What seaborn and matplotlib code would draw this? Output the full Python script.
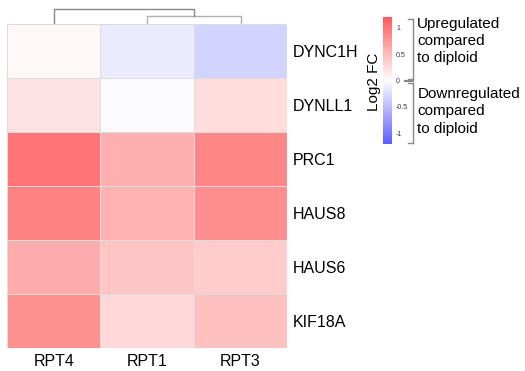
import numpy as np
import pandas as pd
import matplotlib
matplotlib.use("Agg")
import matplotlib.pyplot as plt
from matplotlib.colors import LinearSegmentedColormap
import seaborn as sns

genes = ["DYNC1H", "DYNLL1", "PRC1", "HAUS8", "HAUS6", "KIF18A"]
samples = ["RPT4", "RPT1", "RPT3"]
rpt4 = [0.05, 0.2, 1.0, 0.9, 0.6, 0.8]
rpt1 = [-0.15, -0.02, 0.58, 0.56, 0.43, 0.28]
rpt3 = [-0.32, 0.25, 0.88, 0.82, 0.38, 0.45]
# dendrogram merges: (left leaf pos, right leaf pos, height)
merge_inner = (1, 2, 0.55)
merge_outer_height = 1.0

df = pd.DataFrame({"RPT4": rpt4, "RPT1": rpt1, "RPT3": rpt3}, index=genes)

plt.rcParams["font.family"] = ["Liberation Sans", "DejaVu Sans"]
cmap = LinearSegmentedColormap.from_list("fc", ["#5c5cff", "#ffffff", "#ff5a5a"])

fig = plt.figure(figsize=(5.25, 3.71), dpi=100)
ax = fig.add_axes([0.0133, 0.062, 0.534, 0.873])
cax = fig.add_axes([0.7295, 0.612, 0.017, 0.342])

sns.heatmap(df, ax=ax, cbar_ax=cax, cmap=cmap, vmin=-1.2, vmax=1.2,
            linewidths=0.6, linecolor="#dcdcdc")
ax.yaxis.tick_right()
ax.set_yticklabels(genes, rotation=0, fontsize=11.5)
ax.set_xticklabels(samples, rotation=0, fontsize=11.5)
ax.tick_params(length=0, pad=4)

cax.set_yticks([-1, -0.5, 0, 0.5, 1])
cax.set_yticklabels(["-1", "-0.5", "0", "0.5", "1"], fontsize=5, color="#333355")
cax.tick_params(length=0, pad=3)
for s in cax.spines.values():
    s.set_visible(False)
fig.text(0.712, 0.78, "Log2 FC", rotation=90, ha="center", va="center", fontsize=11)

# brackets next to colorbar
bk = "#888888"
for y0, y1 in [(0.948, 0.786), (0.776, 0.614)]:
    fig.add_artist(plt.Line2D([0.786, 0.786], [y0, y1], color=bk, lw=1))
    fig.add_artist(plt.Line2D([0.778, 0.786], [y0, y0], color=bk, lw=1))
    fig.add_artist(plt.Line2D([0.778, 0.786], [y1, y1], color=bk, lw=1))
fig.add_artist(plt.Line2D([0.772, 0.786], [0.781, 0.781], color=bk, lw=1.5))
fig.text(0.795, 0.955, "Upregulated\ncompared\nto diploid", fontsize=11, va="top", linespacing=1.3)
fig.text(0.795, 0.765, "Downregulated\ncompared\nto diploid", fontsize=11, va="top", linespacing=1.3)

# dendrogram above heatmap
dax = fig.add_axes([0.0133, 0.935, 0.534, 0.044])
dax.set_xlim(0, len(samples))
dax.set_ylim(0, 1.05)
dax.axis("off")
a, b, h = merge_inner
xa, xb = a + 0.5, b + 0.5
dax.plot([xa, xa, xb, xb], [0, h, h, 0], color="#b0b0b0", lw=1)
mid = (xa + xb) / 2
dax.plot([0.5, 0.5, mid, mid], [0, merge_outer_height, merge_outer_height, h],
         color="#888888", lw=1)

fig.savefig("out.png", dpi=100)
